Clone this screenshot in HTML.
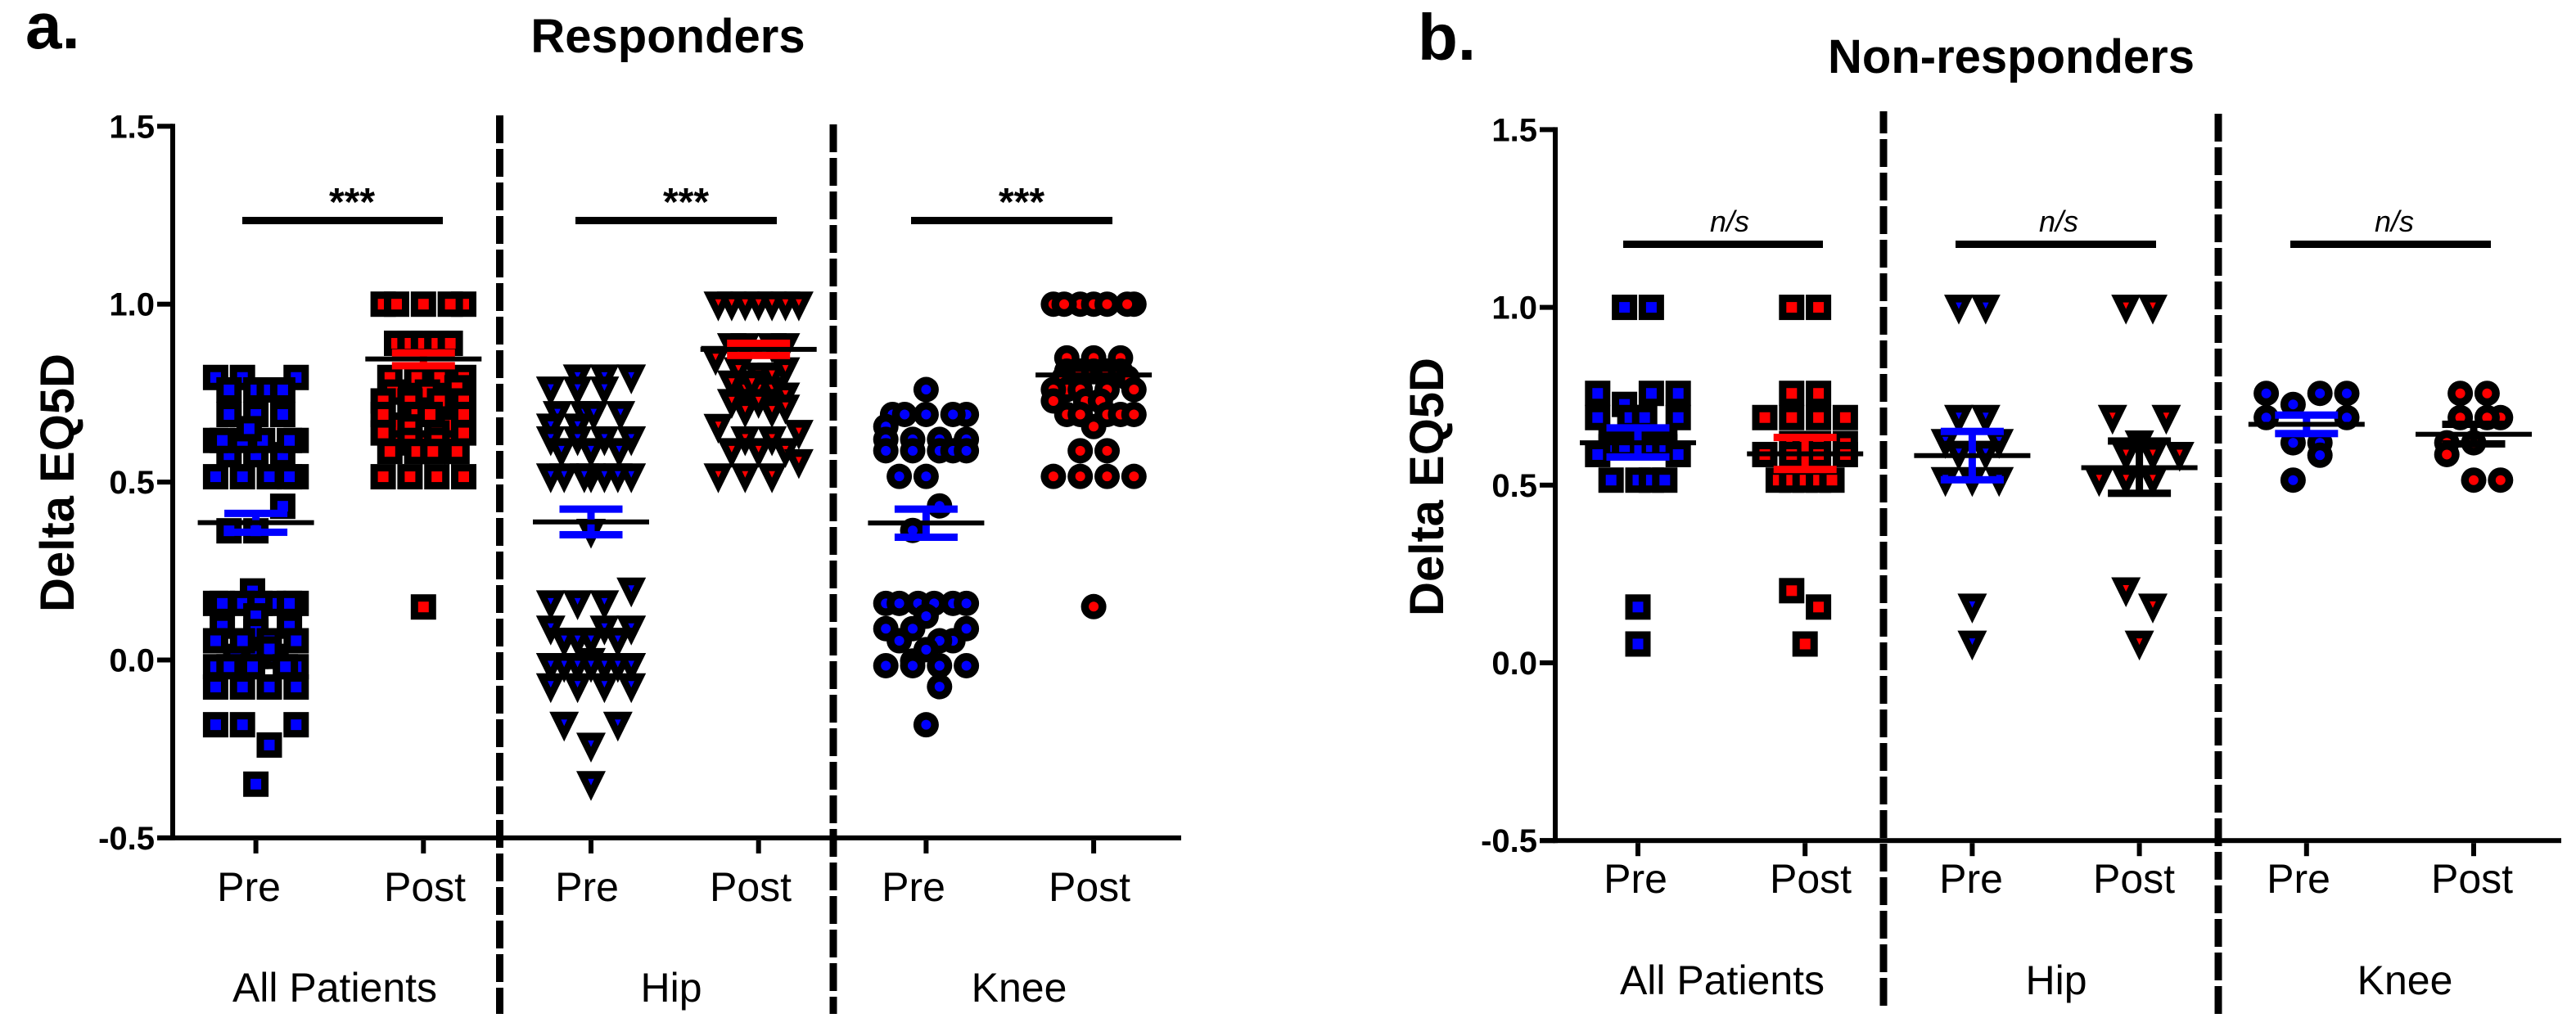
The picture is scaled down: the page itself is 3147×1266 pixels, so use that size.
<!DOCTYPE html>
<html lang="en">
<head>
<meta charset="utf-8">
<title>Delta EQ5D in responders and non-responders</title>
<style>
html,body{margin:0;padding:0;background:#fff;}
svg{display:block;font-family:"Liberation Sans",sans-serif;}
.pl{font-size:80px;font-weight:700;}
.ti{font-size:58px;font-weight:700;text-anchor:middle;}
.yt{font-size:58px;font-weight:700;text-anchor:middle;}
.cat{font-size:50px;text-anchor:middle;}
.sig{font-size:48px;font-weight:700;text-anchor:middle;}
.ns{font-size:36px;font-style:italic;text-anchor:middle;}
.tk{font-size:40px;font-weight:700;text-anchor:end;}
</style>
</head>
<body>
<svg id="chart" xmlns="http://www.w3.org/2000/svg" width="3147" height="1266" viewBox="0 0 3147 1266">
<rect width="3147" height="1266" fill="#fff"/>
<text class="pl" x="31" y="59">a.</text>
<text class="pl" x="1732" y="73">b.</text>
<text class="ti" x="816" y="64">Responders</text>
<text class="ti" x="2457" y="89">Non-responders</text>
<text class="yt" transform="translate(90,590) rotate(-90)">Delta EQ5D</text>
<text class="yt" transform="translate(1763,595) rotate(-90)">Delta EQ5D</text>

<g id="marks"></g>
<g id="axes"></g>

<rect x="296" y="265" width="245" height="9"/>
<rect x="703" y="265" width="246" height="9"/>
<rect x="1113" y="265" width="246" height="9"/>
<text class="sig" x="430" y="263">***</text>
<text class="sig" x="838" y="263">***</text>
<text class="sig" x="1248" y="263">***</text>
<rect x="1983" y="294" width="244" height="9"/>
<rect x="2389" y="294" width="245" height="9"/>
<rect x="2798" y="294" width="245" height="9"/>
<text class="ns" x="2113" y="283">n/s</text>
<text class="ns" x="2515" y="283">n/s</text>
<text class="ns" x="2925" y="283">n/s</text>

<g fill="none" stroke="#000" stroke-width="9">
<line x1="610.5" y1="141" x2="610.5" y2="1239" stroke-dasharray="34 7"/>
<line x1="1018" y1="152" x2="1018" y2="1239" stroke-dasharray="34 7"/>
<line x1="2301" y1="1229" x2="2301" y2="136" stroke-dasharray="34 7"/>
<line x1="2710" y1="1239" x2="2710" y2="136" stroke-dasharray="34 7"/>
</g>

<text class="cat" x="304" y="1101">Pre</text>
<text class="cat" x="519" y="1101">Post</text>
<text class="cat" x="717" y="1101">Pre</text>
<text class="cat" x="917" y="1101">Post</text>
<text class="cat" x="1116" y="1101">Pre</text>
<text class="cat" x="1331" y="1101">Post</text>
<text class="cat" x="409" y="1224">All Patients</text>
<text class="cat" x="820" y="1224">Hip</text>
<text class="cat" x="1245" y="1224">Knee</text>
<text class="cat" x="1998" y="1091">Pre</text>
<text class="cat" x="2212" y="1091">Post</text>
<text class="cat" x="2408" y="1091">Pre</text>
<text class="cat" x="2607" y="1091">Post</text>
<text class="cat" x="2808" y="1091">Pre</text>
<text class="cat" x="3020" y="1091">Post</text>
<text class="cat" x="2104" y="1215">All Patients</text>
<text class="cat" x="2512" y="1215">Hip</text>
<text class="cat" x="2938" y="1215">Knee</text>
</svg>

<script>
const yTickValues = [1.5, 1.0, 0.5, 0.0, -0.5];
const yTickLabels = ["1.5", "1.0", "0.5", "0.0", "-0.5"];

/* Each group: values, swarm column of each value, and [mean, SEM upper, SEM lower]. */
const aAllPreValues = [.794,.794,.794, .759,.759,.759,.759, .69,.69,.69, .577,.577,.577, .617,.617,.617,.617,.617,.617, .65, .515,.515,.515,.515,.515, .432, .363,.363,
  .194, .159,.159,.159,.159,.159,.159,.159, .124, .095,.095, .08, .01,.01,.01, .054,.054,.054,.054, .031, -.019,-.019,-.019,-.019,-.019, -.076,-.076,-.076,-.076, -.182,-.182,-.182, -.239, -.349];
const aAllPreSlots = [-3,-1,3, -2,0,1,2, -2,0,2, -2,0,2, -3,3,-1,-2.5,.5,2.5, -.5, -3,-1,1,3,2.5, 2, -2,0,
  -.25, -3,3,-1,1.3,.3,-2.5,2.5, 0, -2.5,2.5, 0, -1.5,0,1.5, -3,-1,1,3, 1, -3,3,-2,-.25,2.2, -3,-1,1,3, -3,-1,3, 1, 0];
const aAllPreStats = [.386,.412,.359];

const aAllPostValues = [.75,.75, .70,.70, .66,.66, .61,.61,.61, 1,1,1,1,1, .89,.89,.89,.89,.89, .794,.794,.794,.794, .765, .753,.753, .728,.728,.728,.728, .69,.69,.69,.69, .655, .638,.638,.638, .617,.617, .586,.586,.586,.586, .515,.515,.515,.515, .149];
const aAllPostSlots = [-1,1, -1,1, -2,2, -2,0,2, -3,3,-2,0,2, -2,-1,0,1,2, -2.5,-.5,1.2,3, 2.5, -2.3,.3, -3,-1,1.2,3, -3,-.5,.5,3, -1, -3,1,3, -1,1, -2.5,-.5,.7,2.5, -3,-1,1,3, 0];
const aAllPostStats = [.846,.863,.827];

const aHipPreValues = [.795,.795,.795, .761,.761,.761, .692,.692,.692,.692, .657,.657, .621,.621,.621,.621, .588,.588,.588, .517,.517,.517,.517,.517,.517,.517, .361,
  .196, .16,.16,.16, .089,.089,.089, .055,.055,.055,.055, -.002, -.016,-.016,-.016,-.016,-.016,-.016,-.016, -.073,-.073,-.073,-.073, -.181,-.181, -.24, -.348];
const aHipPreSlots = [-1,1,3, -3,-1,1, -2.5,-.5,.2,2.2, -3,-1, -3,-1,1,3, -2.2,0,2.1, 3,0,-.5,1,2,-2,-3, 0,
  3, -3,-1,1, -3,1,3, -2,-1,0,2, 0, -2,-1,1,2,0,-3,3, -3,-1,1,3, -2,2, 0, 0];
const aHipPreStats = [.388,.424,.352];

const aHipPostValues = [.80,.80, .76,.76,.76, .70,.70, 1,1,1,1,1,1,1, .883,.883,.883,.883, .847, .815,.815, .778,.778, .744, .726,.726, .71, .656, .639, .621,.621, .588,.588,.588, .557, .517,.517,.517];
const aHipPostSlots = [0,1, -1,0,1, -1,1, -3,-2,-1,0,1,2,3, -2,-1,1,2, -3.2, -1.5,2, -.5,-2, 2, -2,0, 2, -3, 3, -1,1, -2,0,2, 3, -3,-1,1];
const aHipPostStats = [.873,.89,.856];

const aKneePreValues = [.76, .69,.69,.69,.69,.69, .656, .62,.62,.62,.62, .588,.588,.588,.588,.588, .516,.516, .433, .364,
  .159,.159,.159,.159,.159,.159, .123, .088,.088,.088, .054,.054,.054, .029, -.003, -.016,-.016,-.016,-.016, -.075, -.182];
const aKneePreSlots = [0, -2.5,-1.6,0,3,2, -3, -3,-1,1,3, -1,1,2,3,-3, -2,0, 1, -1,
  -3,-2,-.6,.6,2,3, 0, -3,-1,3, 2,-2,1, 0, -1, -3,-1,1,3, 1, 0];
const aKneePreStats = [.385,.424,.345];

const aKneePostValues = [1,1,1,1,1,1,1, .849,.849,.849, .812,.812,.812,.812,.812, .793,.793, .76,.76,.76,.76,.76, .728,.728,.728, .69,.69,.69,.69,.69, .656, .588,.588, .516,.516,.516,.516, .15];
const aKneePostSlots = [-3,-1,3,-2.2,0,1,2.5, -2,0,2, -2,-1,0,1,2, -2.2,2.5, -2,-1,1,3,-3, -3,-.6,.5, -2,-1,1,2,3, 0, -1,1, -3,-1,1,3, 0];
const aKneePostStats = [.801,.82,.785];

const bAllPreValues = [1,1, .758,.758,.758, .727, .69,.69,.69,.69, .628,.628,.628,.628, .608,.608,.608,.608, .586,.586, .514,.514,.514,.514, .157, .053];
const bAllPreSlots = [-1,1, -3,1,3, -1, -.6,.5,-3,3, -2,-1,1,2, -2,-1,1,2, -3,3, -2,0,1,2, 0, 0];
const bAllPreStats = [.619,.661,.579];

const bAllPostValues = [1,1, .758,.758, .69,.69,.69,.69, .617,.617,.617,.617, .586,.586,.586,.586, .514,.514,.514,.514,.514, .203, .157, .053];
const bAllPostSlots = [-1,1, -1,1, -3,-1,1,3, -1,0,1,3, -3,-1,1,3, -2,-1,0,1,2, -1, 1, 0];
const bAllPostStats = [.588,.634,.544];

const bHipPreValues = [1,1, .69,.69, .622,.622, .589,.589, .515,.515,.515, .159, .055];
const bHipPreSlots = [-1,1, -1,1, -2,2, -1,1, -2,0,2, 0, 0];
const bHipPreStats = [.583,.651,.515];

const bHipPostValues = [1,1, .69,.69, .618, .586,.586,.586, .515,.515,.515, .205, .159, .055];
const bHipPostSlots = [-1,1, -2,2, 0, -1,1,3, -3,-1,1, -1, 1, 0];
const bHipPostStats = [.549,.624,.477];

const bKneePreValues = [.758,.758,.758, .727, .69,.69, .619,.619, .584, .514];
const bKneePreSlots = [-3,1,3, -1, -3,3, -1,1, 1, -1];
const bKneePreStats = [.671,.697,.645];

const bKneePostValues = [.758,.758, .69,.69,.69, .619,.619, .586, .514,.514];
const bKneePostSlots = [-1,1, 2,-1,1, -2,0, -2, 0,2];
const bKneePostStats = [.643,.671,.616];

const NS = "http://www.w3.org/2000/svg";
const marksLayer = document.getElementById("marks");
const axesLayer = document.getElementById("axes");
const BLUE = "#0000ff", RED = "#ff0000", BLACK = "#000000";
const SLOT = 16.4;

function makeScales(zeroY, unitPx, firstX, stepX) {
  return {
    y: function (v) { return zeroY - unitPx * v; },
    x: function (i) { return firstX + stepX * i; }
  };
}
const scaleA = makeScales(806.5, 434.8, 312.6, 204.7);
const scaleB = makeScales(810, 434.4, 2001, 204.2);

function svgEl(tag, attrs, parent) {
  const el = document.createElementNS(NS, tag);
  for (const k in attrs) el.setAttribute(k, attrs[k]);
  parent.appendChild(el);
  return el;
}

function drawMarker(parent, shape, fill, cx, cy) {
  if (shape === "square") {
    svgEl("rect", {x: cx - 15.5, y: cy - 15.5, width: 31, height: 31, fill: BLACK}, parent);
    svgEl("rect", {x: cx - 6.5, y: cy - 6.5, width: 13, height: 13, fill: fill}, parent);
  } else if (shape === "triangle") {
    svgEl("polygon", {points: (cx - 18) + "," + (cy - 15.5) + " " + (cx + 18) + "," + (cy - 15.5) + " " + cx + "," + (cy + 21), fill: BLACK}, parent);
    svgEl("polygon", {points: (cx - 3.8) + "," + (cy - 6) + " " + (cx + 3.8) + "," + (cy - 6) + " " + cx + "," + (cy + 2), fill: fill}, parent);
  } else {
    svgEl("circle", {cx: cx, cy: cy, r: 15.5, fill: BLACK}, parent);
    svgEl("circle", {cx: cx, cy: cy, r: 6, fill: fill}, parent);
  }
}

function drawGroup(name, scale, index, shape, fill, semFill, values, slots, stats) {
  const g = svgEl("g", {}, marksLayer);
  
  
  const cx = scale.x(index);
  values.forEach(function (v, i) {
    const p = svgEl("g", {}, g);
    
    
    drawMarker(p, shape, fill, cx + slots[i] * SLOT, scale.y(v));
  });
  const mean = scale.y(stats[0]), up = scale.y(stats[1]), lo = scale.y(stats[2]);
  const sem = svgEl("g", {fill: semFill}, marksLayer);
  
  
  svgEl("rect", {x: cx - 4.5, y: up, width: 9, height: lo - up}, sem);
  svgEl("rect", {x: cx - 38.5, y: up - 4.5, width: 77, height: 9}, sem);
  svgEl("rect", {x: cx - 38.5, y: lo - 4.5, width: 77, height: 9}, sem);
  const m = svgEl("rect", {x: cx - 71, y: mean - 3, width: 142, height: 6, fill: BLACK}, marksLayer);
  
  
}

drawGroup("a-all-pre", scaleA, 0, "square", BLUE, BLUE, aAllPreValues, aAllPreSlots, aAllPreStats);
drawGroup("a-all-post", scaleA, 1, "square", RED, RED, aAllPostValues, aAllPostSlots, aAllPostStats);
drawGroup("a-hip-pre", scaleA, 2, "triangle", BLUE, BLUE, aHipPreValues, aHipPreSlots, aHipPreStats);
drawGroup("a-hip-post", scaleA, 3, "triangle", RED, RED, aHipPostValues, aHipPostSlots, aHipPostStats);
drawGroup("a-knee-pre", scaleA, 4, "circle", BLUE, BLUE, aKneePreValues, aKneePreSlots, aKneePreStats);
drawGroup("a-knee-post", scaleA, 5, "circle", RED, BLACK, aKneePostValues, aKneePostSlots, aKneePostStats);
drawGroup("b-all-pre", scaleB, 0, "square", BLUE, BLUE, bAllPreValues, bAllPreSlots, bAllPreStats);
drawGroup("b-all-post", scaleB, 1, "square", RED, RED, bAllPostValues, bAllPostSlots, bAllPostStats);
drawGroup("b-hip-pre", scaleB, 2, "triangle", BLUE, BLUE, bHipPreValues, bHipPreSlots, bHipPreStats);
drawGroup("b-hip-post", scaleB, 3, "triangle", RED, BLACK, bHipPostValues, bHipPostSlots, bHipPostStats);
drawGroup("b-knee-pre", scaleB, 4, "circle", BLUE, BLUE, bKneePreValues, bKneePreSlots, bKneePreStats);
drawGroup("b-knee-post", scaleB, 5, "circle", RED, BLACK, bKneePostValues, bKneePostSlots, bKneePostStats);

function drawAxes(name, scale, axisX, tickLeft, axisRight, labelRight) {
  const top = scale.y(1.5), bottom = scale.y(-0.5);
  const yLine = svgEl("rect", {x: axisX - 3, y: top - 3, width: 6, height: bottom - top + 6}, axesLayer);
  
  
  const xLine = svgEl("rect", {x: tickLeft, y: bottom - 3, width: axisRight - tickLeft, height: 6}, axesLayer);
  
  
  yTickValues.forEach(function (v, i) {
    const ty = scale.y(v);
    const t = svgEl("rect", {x: tickLeft, y: ty - 3, width: axisX - tickLeft, height: 6}, axesLayer);
    
    
    const lab = svgEl("text", {x: labelRight, y: ty + 14, "class": "tk"}, axesLayer);
    
    
    lab.textContent = yTickLabels[i];
  });
  for (let i = 0; i < 6; i++) {
    const t = svgEl("rect", {x: scale.x(i) - 3, y: bottom + 3, width: 6, height: 16}, axesLayer);
    
    
  }
}
drawAxes("panel-a", scaleA, 211, 192, 1443, 189);
drawAxes("panel-b", scaleB, 1900, 1881, 3129, 1878);
</script>
</body>
</html>
